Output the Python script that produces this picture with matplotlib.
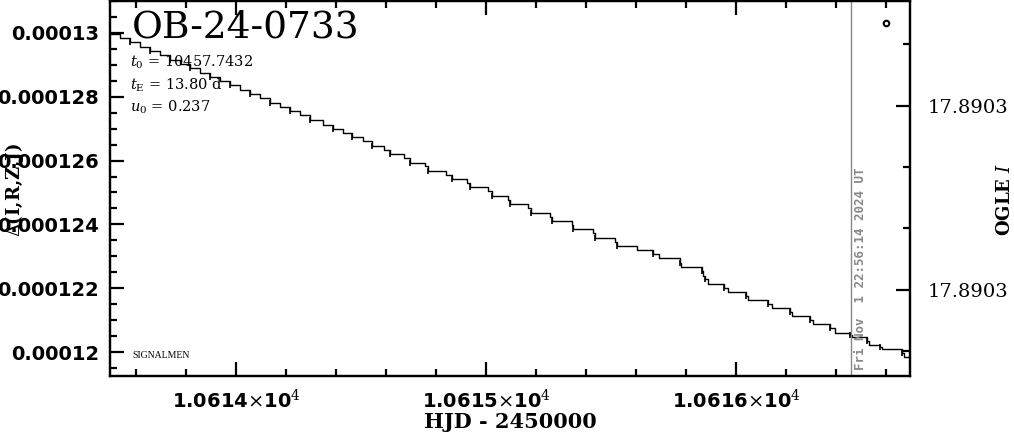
import matplotlib
matplotlib.use("Agg")
import matplotlib.pyplot as plt
from matplotlib.ticker import MultipleLocator, FixedLocator, FixedFormatter
import numpy as np

# ---- data ----
hjd = [10613.496, 10613.536, 10613.576, 10613.616, 10613.656, 10613.696, 10613.736,
       10613.776, 10613.816, 10613.856, 10613.896, 10613.936, 10613.976, 10614.016,
       10614.056, 10614.096, 10614.136, 10614.176, 10614.216, 10614.256, 10614.296,
       10614.348, 10614.387, 10614.427, 10614.464, 10614.508, 10614.543, 10614.592,
       10614.616, 10614.672, 10614.696, 10614.756, 10614.768, 10614.840, 10614.863,
       10614.924, 10614.936, 10615.008, 10615.024, 10615.088, 10615.096, 10615.168,
       10615.179, 10615.256, 10615.264, 10615.343, 10615.348, 10615.428, 10615.436,
       10615.516, 10615.524, 10615.604, 10615.668, 10615.692, 10615.776, 10615.780,
       10615.863, 10615.869, 10615.876, 10615.888, 10615.952, 10615.968, 10616.040,
       10616.048, 10616.128, 10616.144, 10616.216, 10616.224, 10616.296, 10616.308,
       10616.376, 10616.396, 10616.456, 10616.464, 10616.524, 10616.532, 10616.576,
       10616.584, 10616.664, 10616.672, 10616.696]
flux_e6 = [129.969, 129.834, 129.700, 129.566, 129.431, 129.297, 129.163,
           129.028, 128.894, 128.759, 128.625, 128.491, 128.356, 128.222,
           128.088, 127.953, 127.819, 127.684, 127.550, 127.416, 127.281,
           127.125, 126.991, 126.875, 126.750, 126.603, 126.469, 126.334,
           126.219, 126.084, 125.938, 125.844, 125.688, 125.563, 125.438,
           125.313, 125.178, 125.041, 124.897, 124.772, 124.647, 124.509,
           124.366, 124.228, 124.116, 123.991, 123.866, 123.728, 123.584,
           123.447, 123.334, 123.209, 123.063, 122.938, 122.803, 122.666,
           122.531, 122.397, 122.281, 122.147, 122.022, 121.897, 121.766,
           121.625, 121.500, 121.366, 121.250, 121.125, 121.000, 120.875,
           120.750, 120.603, 120.531, 120.459, 120.344, 120.219, 120.156,
           120.084, 119.969, 119.853, 119.853]

x_limits = [10613.496, 10616.696]
y_limits_e6 = [119.25, 131.0]
y_ticks_e6 = [120, 122, 124, 126, 128, 130]
y_tick_labels = ["0.00012", "0.000122", "0.000124", "0.000126", "0.000128", "0.00013"]
x_ticks = [10614, 10615, 10616]
x_tick_labels = [r"1.0614$\times$10$^{4}$", r"1.0615$\times$10$^{4}$", r"1.0616$\times$10$^{4}$"]

mag_limits = [17.890344, 17.890283]
mag_major = [17.89030, 17.89033]
mag_major_labels = ["17.8903", "17.8903"]
mag_minor = [17.89029, 17.89031, 17.89032, 17.89034]

now_hjd = 10616.46
now_label = "Fri Nov  1 22:56:14 2024 UT"
marker_pt = (10616.60, 130.31)

title = "OB-24-0733"
params = [r"$t_0$ = 10457.7432", r"$t_{\rm E}$ = 13.80 d", r"$u_0$ = 0.237"]

# ---- figure ----
plt.rcParams["mathtext.fontset"] = "dejavuserif"
fig = plt.figure(figsize=(10.14, 4.34), dpi=100)
ax = fig.add_axes([110/1014, 1 - 376/434, 800/1014, 375/434])

t = np.array(hjd)
f = np.array(flux_e6) * 1e-6
ax.plot(t, f, drawstyle="steps-post", color="black", lw=1.0)
ax.plot(t[::2], f[::2], ls="none", marker="|", ms=4, mew=1.2, color="black")
ax.plot([marker_pt[0]], [marker_pt[1] * 1e-6], marker="o", ms=4, mfc="white",
        mec="black", mew=1.5, ls="none")

ax.set_xlim(*x_limits)
ax.set_ylim(y_limits_e6[0] * 1e-6, y_limits_e6[1] * 1e-6)

ax.xaxis.set_major_locator(FixedLocator(x_ticks))
ax.xaxis.set_major_formatter(FixedFormatter(x_tick_labels))
ax.xaxis.set_minor_locator(MultipleLocator(0.2))
ax.yaxis.set_major_locator(FixedLocator([v * 1e-6 for v in y_ticks_e6]))
ax.yaxis.set_major_formatter(FixedFormatter(y_tick_labels))
ax.yaxis.set_minor_locator(MultipleLocator(0.5e-6))

for s in ax.spines.values():
    s.set_linewidth(1.6)

ax.tick_params(which="both", direction="in", top=True, right=False, width=1.6)
ax.tick_params(which="major", length=10)
ax.tick_params(which="minor", length=5)
ax.tick_params(axis="y", which="major", labelsize=14, pad=8)
ax.tick_params(axis="x", which="major", labelsize=14, pad=9)
for lab in ax.get_yticklabels() + ax.get_xticklabels():
    lab.set_fontweight("bold")
    lab.set_family("DejaVu Sans")

ax2 = ax.twinx()
ax2.set_ylim(*mag_limits)
ax2.yaxis.set_major_locator(FixedLocator(mag_major))
ax2.yaxis.set_major_formatter(FixedFormatter(mag_major_labels))
ax2.yaxis.set_minor_locator(FixedLocator(mag_minor))
ax2.tick_params(which="both", direction="in", width=1.6)
ax2.tick_params(which="major", length=10, labelsize=14, pad=13)
ax2.tick_params(which="minor", length=5)
for lab in ax2.get_yticklabels():
    lab.set_family("DejaVu Serif")
for s in ax2.spines.values():
    s.set_linewidth(1.6)

ax.axvline(now_hjd, color="#888888", lw=1.0)
ax.text(now_hjd + 0.012, 119.45e-6, now_label, rotation=90, color="#888888",
        family="DejaVu Sans Mono", fontweight="bold", fontsize=9,
        ha="left", va="bottom")

fig.text(132/1014, 1 - 37/434, title, family="DejaVu Serif", fontsize=27,
         ha="left", va="baseline")
for i, p in enumerate(params):
    fig.text(130/1014, 1 - (67 + 22.5 * i)/434, p, family="DejaVu Serif",
             fontsize=10.5, ha="left", va="baseline")
fig.text(132/1014, 1 - 358/434, "SIGNALMEN", family="Liberation Serif",
         fontsize=7, ha="left", va="baseline")

fig.text(510/1014, 1 - 432/434, "HJD - 2450000", family="DejaVu Serif",
         fontweight="bold", fontsize=15, ha="center", va="bottom")
fig.text(15/1014, 1 - 190/434, r"$\Delta$(I,R,Z,J)", family="DejaVu Serif",
         fontweight="bold", fontsize=13, rotation=90, ha="center", va="center")
fig.text(1005/1014, 1 - 199/434, r"OGLE $I$", family="DejaVu Serif",
         fontweight="bold", fontsize=13, rotation=90, ha="center", va="center")

fig.savefig("out.png", dpi=100)
